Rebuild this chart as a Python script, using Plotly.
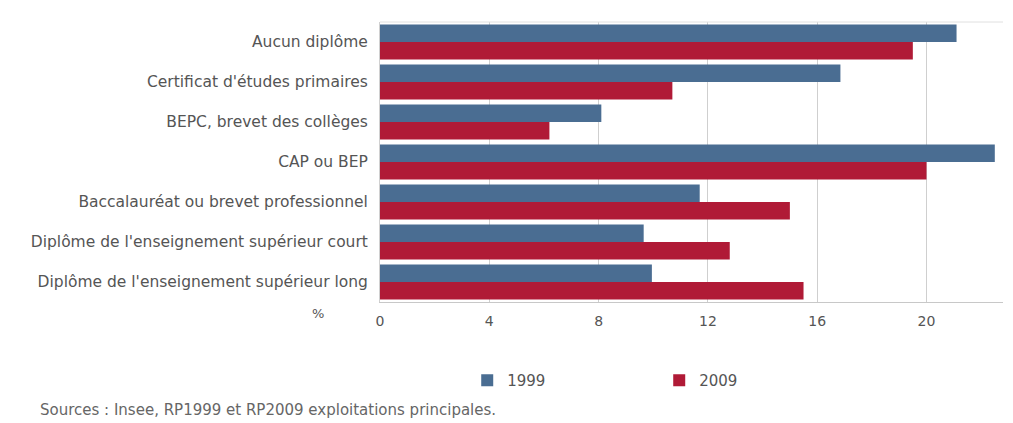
import plotly.graph_objects as go

categories = [
    "Aucun diplôme",
    "Certificat d'études primaires",
    "BEPC, brevet des collèges",
    "CAP ou BEP",
    "Baccalauréat ou brevet professionnel",
    "Diplôme de l'enseignement supérieur court",
    "Diplôme de l'enseignement supérieur long",
]
values_1999 = [21.1, 16.85, 8.1, 22.5, 11.7, 9.65, 9.95]
values_2009 = [19.5, 10.7, 6.2, 20.0, 15.0, 12.8, 15.5]
x_ticks = [0, 4, 8, 12, 16, 20]

BLUE = "#4a6d92"
RED = "#b01a36"
TEXT = "#555555"
FONT = "DejaVu Sans"

fig = go.Figure()
fig.add_trace(go.Bar(y=categories, x=values_1999, name="1999", orientation="h",
                     marker=dict(color=BLUE, line=dict(width=0))))
fig.add_trace(go.Bar(y=categories, x=values_2009, name="2009", orientation="h",
                     marker=dict(color=RED, line=dict(width=0))))

fig.update_layout(
    width=1013, height=423,
    margin=dict(l=380, r=10, t=22, b=121),
    paper_bgcolor="white", plot_bgcolor="white",
    barmode="group", bargap=0.12, bargroupgap=0,
    font=dict(family=FONT, size=13, color=TEXT),
    showlegend=True,
    legend=dict(orientation="h", x=0.14, xanchor="left", y=-0.28, yanchor="middle",
                entrywidth=147, entrywidthmode="pixels",
                font=dict(family=FONT, size=15, color=TEXT),
                traceorder="normal"),
)
fig.update_xaxes(
    range=[0, 22.8], tickvals=x_ticks, ticktext=[str(t) for t in x_ticks],
    showgrid=True, gridcolor="#cfcfcf", gridwidth=1,
    showline=True, linecolor="#c8c8c8", linewidth=1,
    zeroline=False, ticks="outside", ticklen=6, tickcolor="rgba(0,0,0,0)",
    tickfont=dict(family=FONT, size=14, color=TEXT),
)
fig.update_yaxes(
    autorange="reversed", showgrid=False,
    showline=True, linecolor="#d0d0d0", linewidth=1,
    ticks="outside", ticklen=8, tickcolor="rgba(0,0,0,0)",
    tickfont=dict(family=FONT, size=15.5, color=TEXT),
)
# thin rule along the top of the plotting area
fig.add_shape(type="line", xref="paper", yref="paper", x0=0, x1=1, y0=1, y1=1,
              line=dict(color="#e0e0e0", width=1))
fig.add_annotation(text="%", xref="paper", yref="paper", x=-0.1, y=-0.04,
                   xanchor="center", yanchor="middle", showarrow=False,
                   font=dict(family=FONT, size=13, color=TEXT))
fig.add_annotation(text="Sources : Insee, RP1999 et RP2009 exploitations principales.",
                   xref="paper", yref="paper", x=-0.549, y=-0.386,
                   xanchor="left", yanchor="middle", showarrow=False,
                   font=dict(family=FONT, size=15, color="#666666"))

fig.write_html("out.html")
